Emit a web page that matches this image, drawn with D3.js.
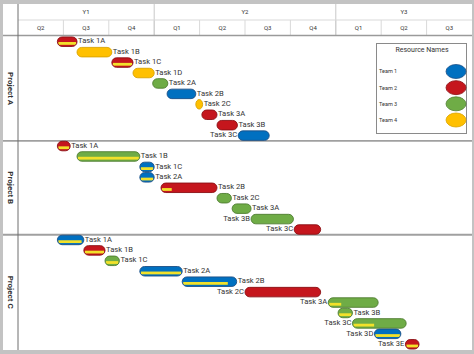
<!DOCTYPE html>
<html>
<head>
<meta charset="utf-8">
<script src="https://cdn.jsdelivr.net/npm/d3@7"></script>
<style>
  body { margin: 0; background: #fff; }
  svg text { font-family: Roboto, "Liberation Sans", sans-serif; fill: #333; }
</style>
</head>
<body>
<svg id="chart" width="474" height="354"></svg>
<script>
// timeline: months from start of Y1 Q2
var years = ['Y1', 'Y2', 'Y3'];
var yearStart = [0, 9, 21];
var yearEnd = [9, 21, 30];
var quarters = ['Q2', 'Q3', 'Q4', 'Q1', 'Q2', 'Q3', 'Q4', 'Q1', 'Q2', 'Q3'];

var projects = ['Project A', 'Project B', 'Project C'];
var projectRows = [10, 9, 11];

var teams = ['Team 1', 'Team 2', 'Team 3', 'Team 4'];
var teamFill = ['#0070c0', '#c5161d', '#6fac46', '#ffc000'];
var teamStroke = ['#1c4f86', '#8a1014', '#4e7d30', '#d9a300'];

// tasks, in row order
var taskNames = [
    'Task 1A', 'Task 1B', 'Task 1C', 'Task 1D', 'Task 2A', 'Task 2B', 'Task 2C', 'Task 3A', 'Task 3B', 'Task 3C',
    'Task 1A', 'Task 1B', 'Task 1C', 'Task 2A', 'Task 2B', 'Task 2C', 'Task 3A', 'Task 3B', 'Task 3C',
    'Task 1A', 'Task 1B', 'Task 1C', 'Task 2A', 'Task 2B', 'Task 2C', 'Task 3A', 'Task 3B', 'Task 3C', 'Task 3D', 'Task 3E'
];
var taskStart = [
    2.6, 3.9, 6.2, 7.6, 8.9, 9.85, 11.75, 12.15, 13.15, 14.55,
    2.6, 3.9, 8.05, 8.05, 9.45, 13.15, 14.15, 15.4, 18.25,
    2.6, 4.35, 5.75, 8.05, 10.85, 15.0, 20.5, 21.15, 22.1, 23.55, 25.6
];
var taskEnd = [
    3.9, 6.2, 7.6, 9.0, 9.9, 11.75, 12.2, 13.15, 14.5, 16.6,
    3.45, 8.05, 9.0, 9.0, 13.15, 14.1, 15.4, 18.2, 20.0,
    4.35, 5.75, 6.7, 10.85, 14.45, 20.0, 23.8, 22.1, 25.65, 25.3, 26.5
];
var taskTeam = [
    1, 3, 1, 3, 2, 0, 3, 1, 1, 0,
    1, 2, 0, 0, 1, 2, 2, 2, 1,
    0, 1, 2, 0, 0, 1, 2, 2, 2, 0, 1
];
var taskDone = [
    1, 0, 1, 0, 0, 0, 0, 0, 0, 0,
    1, 1, 1, 1, 0.18, 0, 0, 0, 0,
    0.95, 1, 1, 1, 0.85, 0, 0.25, 1, 0.4, 1, 1
];
var labelLeft = [
    0, 0, 0, 0, 0, 0, 0, 0, 0, 1,
    0, 0, 0, 0, 0, 0, 0, 1, 1,
    0, 0, 0, 0, 0, 1, 1, 0, 1, 1, 1
];

var svg = d3.select('#chart');
var gLeft = 18, gRight = 472, gTop = 4, headMid = 20, headBottom = 35.5, gBottom = 350;

var x = d3.scaleLinear().domain([0, 30]).range([gLeft, gRight]);
var y = d3.scaleBand().domain(d3.range(taskNames.length)).range([36.5, 349.5]);

// outer frame
svg.append('rect').attr('width', 474).attr('height', 354).attr('fill', '#c3c3c3');
svg.append('rect').attr('x', 3).attr('y', gTop).attr('width', gRight - 3).attr('height', gBottom - gTop).attr('fill', '#fff');

// header
var qx = d3.range(quarters.length + 1).map(function(i) { return x(i * 3); });
svg.selectAll('.q-line').data(qx.slice(1, -1)).enter().append('line')
    .attr('x1', function(d) { return d; }).attr('x2', function(d) { return d; })
    .attr('y1', headMid).attr('y2', headBottom)
    .attr('stroke', '#d9d9d9').attr('stroke-width', 1);
svg.selectAll('.y-line').data(yearStart.slice(1)).enter().append('line')
    .attr('x1', function(d) { return x(d); }).attr('x2', function(d) { return x(d); })
    .attr('y1', gTop).attr('y2', headBottom)
    .attr('stroke', '#c8c8c8').attr('stroke-width', 1);
svg.append('line').attr('x1', gLeft).attr('x2', gRight).attr('y1', headMid).attr('y2', headMid)
    .attr('stroke', '#d9d9d9');
svg.selectAll('.y-text').data(years).enter().append('text')
    .attr('x', function(d, i) { return (x(yearStart[i]) + x(yearEnd[i])) / 2; })
    .attr('y', 14)
    .attr('text-anchor', 'middle')
    .attr('font-size', '6px')
    .text(function(d) { return d; });
svg.selectAll('.q-text').data(quarters).enter().append('text')
    .attr('x', function(d, i) { return x(i * 3 + 1.5); })
    .attr('y', 30)
    .attr('text-anchor', 'middle')
    .attr('font-size', '6px')
    .text(function(d) { return d; });

// section lines
svg.append('line').attr('x1', 3).attr('x2', gRight).attr('y1', headBottom).attr('y2', headBottom)
    .attr('stroke', '#9a9a9a').attr('stroke-width', 1.5);
var rowCount = 0;
projects.forEach(function(p, i) {
    var y0 = y(rowCount);
    rowCount += projectRows[i];
    var y1 = y(rowCount - 1) + y.bandwidth();
    if (i < projects.length - 1) {
        svg.append('line').attr('x1', 3).attr('x2', gRight).attr('y1', y1).attr('y2', y1)
            .attr('stroke', '#a0a0a0').attr('stroke-width', 1.8);
    }
    svg.append('text')
        .attr('transform', 'translate(' + 8 + ',' + ((y0 + y1) / 2) + ') rotate(90)')
        .attr('text-anchor', 'middle')
        .attr('font-size', '8px')
        .attr('font-weight', 'bold')
        .text(p);
});
svg.append('line').attr('x1', gLeft).attr('x2', gLeft).attr('y1', gTop).attr('y2', gBottom)
    .attr('stroke', '#6f6f6f').attr('stroke-width', 1);

// bars
var barH = 9.5;
var defs = svg.append('defs');
var idx = d3.range(taskNames.length);

idx.forEach(function(i) {
    var w = x(taskEnd[i]) - x(taskStart[i]);
    defs.append('clipPath').attr('id', 'clip-' + i)
        .append('rect')
        .attr('x', x(taskStart[i]))
        .attr('y', y(i) + (y.bandwidth() - barH) / 2)
        .attr('width', w).attr('height', barH)
        .attr('rx', Math.min(barH / 2, w / 2)).attr('ry', barH / 2);
});

var bars = svg.selectAll('.bar').data(idx).enter().append('g').attr('class', 'bar');

bars.append('rect')
    .attr('x', function(i) { return x(taskStart[i]); })
    .attr('y', function(i) { return y(i) + (y.bandwidth() - barH) / 2; })
    .attr('width', function(i) { return x(taskEnd[i]) - x(taskStart[i]); })
    .attr('height', barH)
    .attr('rx', function(i) { return Math.min(barH / 2, (x(taskEnd[i]) - x(taskStart[i])) / 2); })
    .attr('ry', barH / 2)
    .attr('fill', function(i) { return teamFill[taskTeam[i]]; });

bars.filter(function(i) { return taskDone[i] > 0; }).append('rect')
    .attr('clip-path', function(i) { return 'url(#clip-' + i + ')'; })
    .attr('x', function(i) { return x(taskStart[i]) + 1; })
    .attr('y', function(i) { return y(i) + y.bandwidth() / 2 + 0.3; })
    .attr('width', function(i) { return (x(taskEnd[i]) - x(taskStart[i]) - 2) * taskDone[i]; })
    .attr('height', 2.8)
    .attr('fill', '#f2e12a');

bars.append('rect')
    .attr('x', function(i) { return x(taskStart[i]); })
    .attr('y', function(i) { return y(i) + (y.bandwidth() - barH) / 2; })
    .attr('width', function(i) { return x(taskEnd[i]) - x(taskStart[i]); })
    .attr('height', barH)
    .attr('rx', function(i) { return Math.min(barH / 2, (x(taskEnd[i]) - x(taskStart[i])) / 2); })
    .attr('ry', barH / 2)
    .attr('fill', 'none')
    .attr('stroke', function(i) { return teamStroke[taskTeam[i]]; })
    .attr('stroke-width', 0.9);

bars.append('text')
    .attr('x', function(i) { return labelLeft[i] ? x(taskStart[i]) - 1 : x(taskEnd[i]) + 1; })
    .attr('y', function(i) { return y(i) + y.bandwidth() / 2 - 1; })
    .attr('dy', '0.35em')
    .attr('text-anchor', function(i) { return labelLeft[i] ? 'end' : 'start'; })
    .attr('font-size', '7.6px')
    .text(function(i) { return taskNames[i]; });

// legend
var legend = svg.append('g');
legend.append('rect').attr('x', 376.5).attr('y', 43.5).attr('width', 90).attr('height', 90)
    .attr('fill', '#fff').attr('stroke', '#8a8a8a').attr('stroke-width', 1);
legend.append('text').attr('x', 422).attr('y', 52).attr('text-anchor', 'middle')
    .attr('font-size', '7px').text('Resource Names');
var ly = d3.scaleLinear().domain([0, 3]).range([71.5, 120]);
legend.selectAll('.lt').data(teams).enter().append('text')
    .attr('x', 379).attr('y', function(d, i) { return ly(i); })
    .attr('dy', '0.35em').attr('font-size', '5.5px')
    .text(function(d) { return d; });
legend.selectAll('.ls').data(teams).enter().append('ellipse')
    .attr('cx', 456).attr('cy', function(d, i) { return ly(i); })
    .attr('rx', 10).attr('ry', 7)
    .attr('fill', function(d, i) { return teamFill[i]; })
    .attr('stroke', function(d, i) { return teamStroke[i]; })
    .attr('stroke-width', 0.8);
</script>
</body>
</html>
